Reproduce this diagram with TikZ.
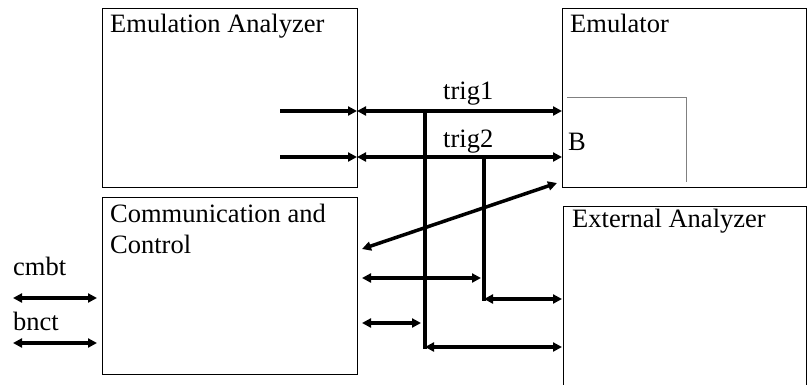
\documentclass[tikz,border=0pt]{standalone}
\usepackage{fontspec}
\setmainfont{Liberation Serif}
\usetikzlibrary{arrows.meta,positioning}
\tikzset{
  blk/.style={draw,line width=1.3pt,anchor=north west,inner sep=0pt},
  lbl/.style={anchor=base west,inner sep=0pt,font=\fontsize{26.5}{31}\selectfont},
  sig/.style={line width=3.5pt},
  bi/.style={sig,{Triangle[length=9pt,width=9pt]}-{Triangle[length=9pt,width=9pt]}},
  uni/.style={sig,-{Triangle[length=9pt,width=9pt]}},
}

\begin{document}
\begin{tikzpicture}[x=1pt,y=-1pt]
\useasboundingbox(0,0)rectangle(807,384);
\clip(0,0)rectangle(807,384);
\node[blk,minimum width=255pt,minimum height=179pt](emuana)at(102,8){};
\node[blk,minimum width=244pt,minimum height=179pt](emu)at(562,8){};
\node[blk,minimum width=255pt,minimum height=177pt](comm)at(102,197){};
\node[blk,minimum width=243pt,minimum height=200pt](extana)at(563,206){};
\node[lbl](tEA)at(110,32){Emulation Analyzer};
\node[lbl](tEM)at(570,32){Emulator};
\node[lbl](tCC)at(110,222){Communication and};
\node[lbl](tCC2)at(110,253){Control};
\node[lbl](tEX)at(572,227){External Analyzer};
\node[lbl](tB)at(568,150){B};
\node[lbl](tt1)at(443,99){trig1};
\node[lbl](tt2)at(443,147){trig2};
\node[lbl](tcm)at(13,275){cmbt};
\node[lbl](tbn)at(13,330){bnct};
\coordinate(t1in)at(280,111);\coordinate(t1l)at(357,111);\coordinate(t1r)at(562,111);
\coordinate(t2in)at(280,157);\coordinate(t2l)at(357,157);\coordinate(t2r)at(562,157);
\coordinate(b1top)at(425,111);\coordinate(b1bot)at(425,347);\coordinate(b1end)at(562,347);
\coordinate(b2top)at(484,157);\coordinate(b2bot)at(484,299);\coordinate(b2end)at(562,299);
\coordinate(d1)at(362,249);\coordinate(d2)at(557,183);
\coordinate(c1)at(362,278);\coordinate(c2)at(481,278);
\coordinate(c3)at(362,323);\coordinate(c4)at(421,323);
\coordinate(cm1)at(13,298);\coordinate(cm2)at(97,298);
\coordinate(bn1)at(13,343);\coordinate(bn2)at(97,343);
\coordinate(g1)at(567,97);\coordinate(g2)at(686,97);\coordinate(g3)at(686,182);
\draw[uni](t1in)--(t1l);
\draw[bi](t1l)--(t1r);
\draw[uni](t2in)--(t2l);
\draw[bi](t2l)--(t2r);
\draw[sig,line cap=rect](b1top)--(b1bot);
\draw[bi](b1bot)--(b1end);
\draw[sig,line cap=rect](b2top)--(b2bot);
\draw[bi](b2bot)--(b2end);
\draw[bi](d1)--(d2);
\draw[bi](c1)--(c2);
\draw[bi](c3)--(c4);
\draw[bi](cm1)--(cm2);
\draw[bi](bn1)--(bn2);
\draw[color=gray,line width=1pt](g1)--(g2)--(g3);
\end{tikzpicture}
\end{document}
